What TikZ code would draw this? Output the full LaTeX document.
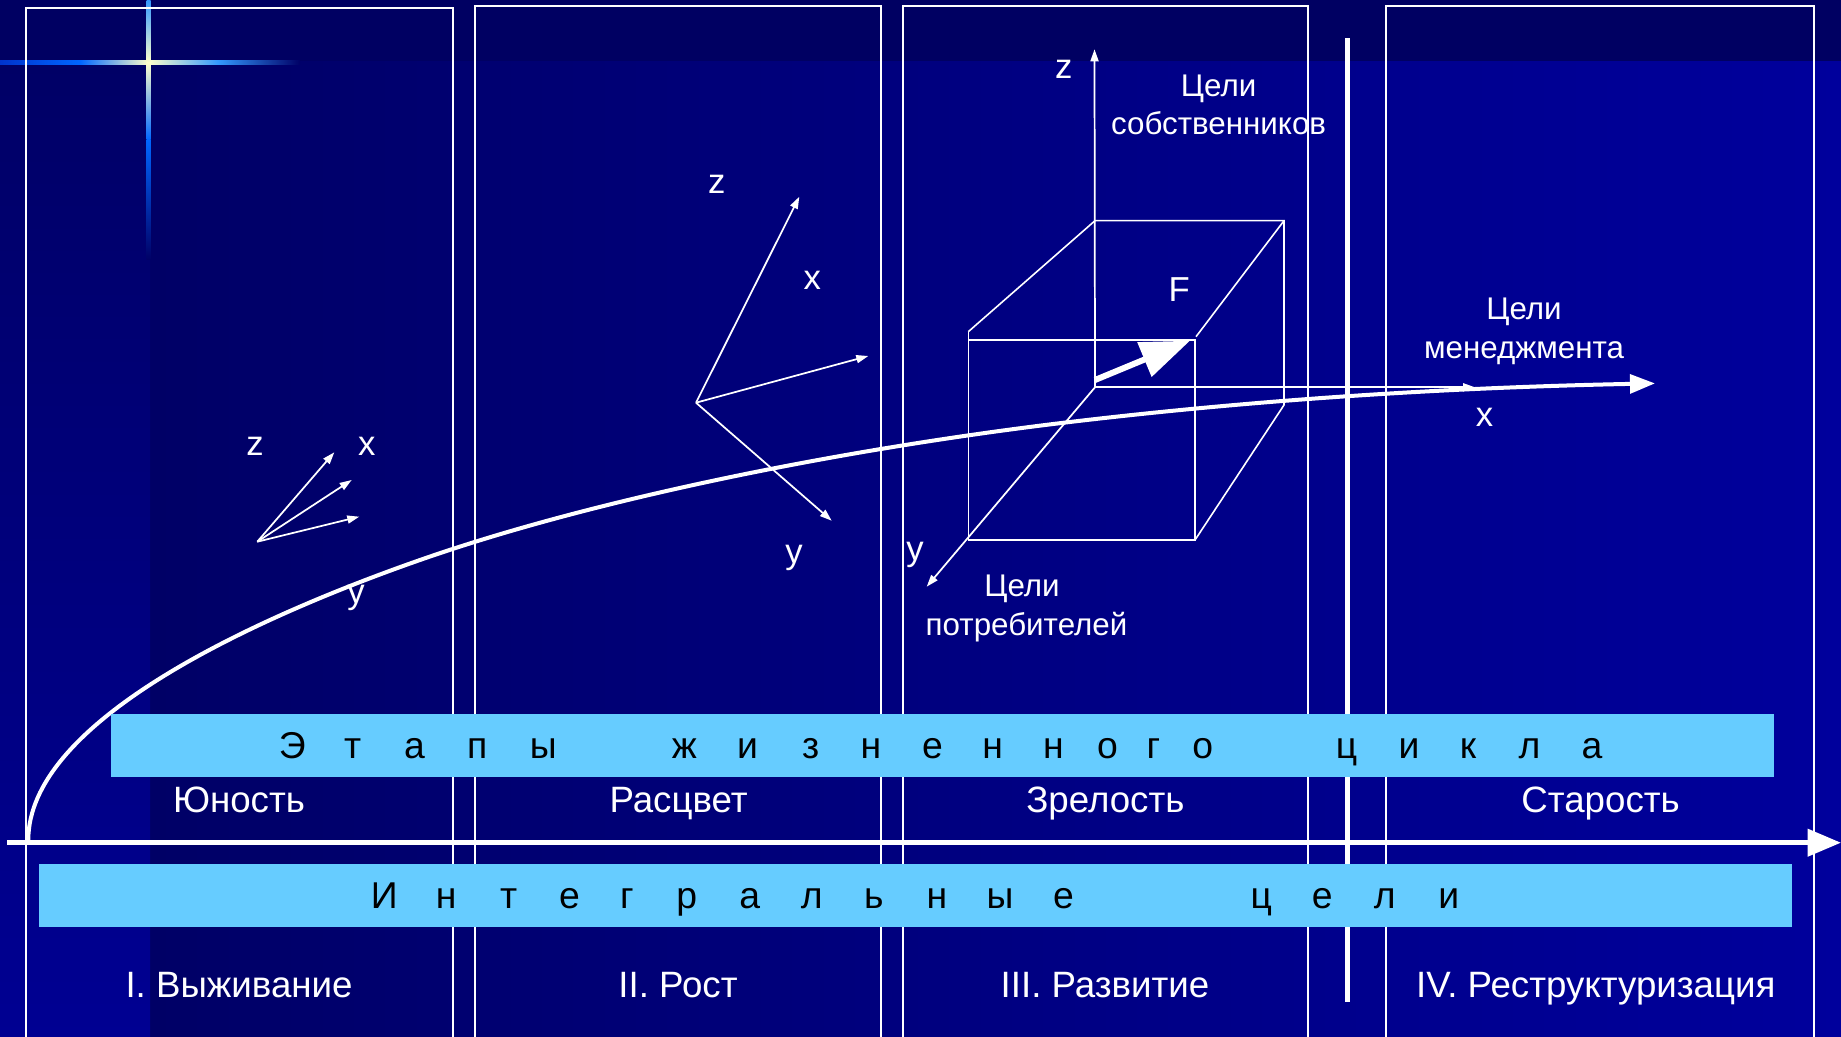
\documentclass[tikz,border=0pt]{standalone}
\usepackage{fontspec}
\setmainfont{Liberation Sans}
\usetikzlibrary{arrows.meta}
\definecolor{bgtop}{HTML}{000062}
\definecolor{bgleft}{HTML}{000066}
\definecolor{bgright}{HTML}{00009C}
\definecolor{stripbot}{HTML}{000092}
\definecolor{bandblue}{HTML}{66CCFF}
\definecolor{starA}{HTML}{0033CC}
\definecolor{starB}{HTML}{0066FF}
\definecolor{starC}{HTML}{FFFFCC}
\definecolor{starD}{HTML}{3399FF}
\tikzset{
  boxline/.style={draw=white, line width=1.5pt},
  bandbox/.style={fill=bandblue, draw=none},
  bandtxt/.style={font=\fontsize{28}{28}\selectfont, text=black, anchor=base, inner sep=0pt},
  stagetxt/.style={font=\fontsize{27.5}{27.5}\selectfont, text=white, anchor=base, inner sep=0pt},
  labtxt/.style={font=\fontsize{23.5}{23.5}\selectfont, text=white, anchor=base, inner sep=0pt},
  axtxt/.style={font=\fontsize{26}{26}\selectfont, text=white, anchor=base, inner sep=0pt},
  thinaxis/.style={draw=white, line width=1.3pt, -{Triangle[length=9pt,width=6pt]}},
  cubeline/.style={draw=white, line width=1.2pt},
  mainaxis/.style={draw=white, line width=3.75pt, -{Triangle[length=25pt,width=20pt]}},
  lifecurve/.style={draw=white, line width=3pt, -{Triangle[length=18.75pt,width=14pt]}},
  forcearrow/.style={draw=white, line width=4.5pt, -{Triangle[length=37pt,width=27pt]}},
  sepline/.style={draw=white, line width=4.3pt}
}
\begin{document}
\begin{tikzpicture}[x=0.75pt,y=-0.75pt]
\useasboundingbox (0,0) rectangle (1841,1037);
\clip (0,0) rectangle (1841,1037);
% background
\fill[bgtop] (0,0) rectangle (1841,62);
\shade[left color=bgleft, right color=bgright] (150,62) rectangle (1841,1037);
\shade[top color=bgleft, bottom color=stripbot] (0,62) rectangle (150,1037);
% star
\shade[left color=starA, right color=starB] (0,60.7) rectangle (80,64.7);
\shade[left color=starB, right color=starC] (80,60.7) rectangle (148.7,64.7);
\shade[left color=starC, right color=starD] (148.7,60.7) rectangle (218,64.7);
\shade[left color=starD, right color=bgleft] (218,60.7) rectangle (300,64.7);
\shade[top color=starD, bottom color=starC] (146.7,0) rectangle (150.7,62.7);
\shade[top color=starC, bottom color=starB] (146.7,62.7) rectangle (150.7,140);
\shade[top color=starB, bottom color=bgleft] (146.7,140) rectangle (150.7,260);
% column boxes
\draw[boxline] (25.5,1045) |- (453,8.3) -- (453,1045);
\draw[boxline] (475,1045) |- (881,6) -- (881,1045);
\draw[boxline] (903,1045) |- (1308,6) -- (1308,1045);
\draw[boxline] (1386.4,1045) |- (1813.6,6) -- (1813.6,1045);
% separator
\coordinate (septop) at (1347.5,38.5);
\coordinate (sepbot) at (1347.5,1001.7);
\draw[sepline] (septop) -- (sepbot);
% life curve
\coordinate (c0) at (28.3,840);
\coordinate (c1) at (420,560);
\coordinate (c2) at (1064,422.7);
\coordinate (c3) at (1655,383.4);
\draw[lifecurve] (c0) .. controls (28.3,725) and (240,623) .. (c1)
  .. controls (600,497) and (849,448.5) .. (c2)
  .. controls (1264,398.7) and (1455,387.4) .. (c3);
% first axes
\coordinate (o1) at (257.3,541.7);
\coordinate (t1a) at (334.3,452.3);
\coordinate (t1b) at (351.7,480);
\coordinate (t1c) at (359.3,516.7);
\draw[thinaxis] (o1) -- (t1a);
\draw[thinaxis] (o1) -- (t1b);
\draw[thinaxis] (o1) -- (t1c);
\node[axtxt] (z1) at (255,455) {z};
\node[axtxt] (x1) at (366.7,455) {x};
\node[axtxt] (y1) at (356,603) {y};
% second axes
\coordinate (o2) at (696,402.7);
\coordinate (t2z) at (799.3,196.7);
\coordinate (t2x) at (868.3,356);
\coordinate (t2y) at (831.7,520.7);
\draw[thinaxis] (o2) -- (t2z);
\draw[thinaxis] (o2) -- (t2x);
\draw[thinaxis] (o2) -- (t2y);
\node[axtxt] (z2) at (716.7,193.3) {z};
\node[axtxt] (x2) at (812.3,289.3) {x};
\node[axtxt] (y2) at (794,563.3) {y};
% cube
\coordinate (o3) at (1095,387.3);
\coordinate (btl) at (1095,220.7);
\coordinate (btr) at (1284,220.7);
\coordinate (bbr) at (1284,405);
\coordinate (ftlc) at (968.3,331.7);
\coordinate (ftl) at (968.3,340);
\coordinate (ftr) at (1195,340);
\coordinate (fbl) at (968.3,540);
\coordinate (fbr) at (1195,540);
\coordinate (trd) at (1196,336.7);
\draw[cubeline] (btl) -- (btr) -- (bbr) -- (fbr);
\draw[cubeline] (ftlc) -- (btl);
\draw[cubeline] (btr) -- (trd);
\draw[cubeline] (ftl) -- (ftr) -- (fbr) -- (fbl) -- (ftlc);
\coordinate (t3z) at (1094.5,49.3);
\coordinate (t3x) at (1475,387.3);
\coordinate (t3y) at (926.7,586.7);
\draw[thinaxis] (o3) -- (t3z);
\draw[thinaxis] (o3) -- (t3x);
\draw[thinaxis] (o3) -- (t3y);
\coordinate (fs) at (1095,380);
\coordinate (ft) at (1190,340.7);
\draw[forcearrow] (fs) -- (ft);
\node[axtxt] (z3) at (1063.8,79) {z};
\node[axtxt] (x3) at (1484.5,426.7) {x};
\node[axtxt] (y3) at (915,560) {y};
\node[axtxt] (F) at (1179.3,301.7) {F};
\node[labtxt] (own1) at (1218.6,96.7) {Цели};
\node[labtxt] (own2) at (1218.6,135) {собственников};
\node[labtxt] (man1) at (1524,320) {Цели};
\node[labtxt] (man2) at (1524,358.3) {менеджмента};
\node[labtxt] (cons1) at (1022,596) {Цели};
\node[labtxt] (cons2) at (1026.5,635) {потребителей};
% bands
\fill[bandbox] (111,714) rectangle (1774,776.7);
\fill[bandbox] (38.7,864) rectangle (1792,926.7);
\foreach \px/\ch [count=\i] in {292.3/Э, 352.6/т, 414.6/а, 477.2/п, 543.2/ы, 684.4/ж, 747.5/и, 810.7/з, 871/н, 932.4/е, 992.6/н, 1053.4/н, 1107.4/о, 1153.4/г, 1202.8/о, 1346.6/ц, 1409/и, 1468/к, 1529.5/л, 1592/а}
  \node[bandtxt] (ea\i) at (\px,758.3) {\ch};
\foreach \px/\ch [count=\i] in {384.2/И, 446.2/н, 508.7/т, 569.6/е, 627/г, 686.7/р, 749.8/а, 811.8/л, 873.8/ь, 937/н, 1000/ы, 1063.6/е, 1261.4/ц, 1322.2/е, 1384.7/л, 1448.9/и}
  \node[bandtxt] (ig\i) at (\px,908.3) {\ch};
% main axis
\coordinate (ax0) at (7,842.7);
\coordinate (ax1) at (1841,842.7);
\draw[mainaxis] (ax0) -- (ax1);
% stage names
\node[stagetxt] (s1) at (239,812.5) {Юность};
\node[stagetxt] (s2) at (678.6,812.5) {Расцвет};
\node[stagetxt] (s3) at (1105.4,812.5) {Зрелость};
\node[stagetxt] (s4) at (1600.6,812.5) {Старость};
\node[stagetxt] (p1) at (239,997) {I. Выживание};
\node[stagetxt] (p2) at (678,997) {II. Рост};
\node[stagetxt] (p3) at (1105,997) {III. Развитие};
\node[stagetxt] (p4) at (1595.7,997) {IV. Реструктуризация};
\end{tikzpicture}
\end{document}
